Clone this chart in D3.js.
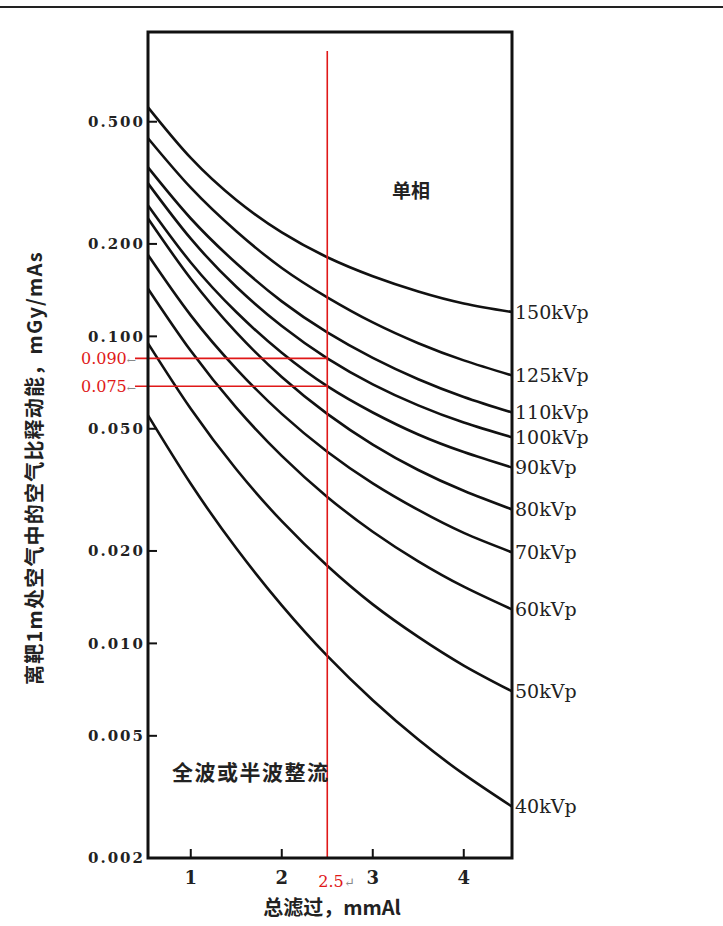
<!DOCTYPE html>
<html>
<head>
<meta charset="utf-8">
<script src="https://cdn.jsdelivr.net/npm/d3@7"></script>
<style>
  body { margin: 0; background: #fff; }
  svg { display: block; }
</style>
</head>
<body>
<svg id="chart" width="723" height="926"></svg>
<script>
// ---- data ----
const filtration = [0.53, 1.0, 1.5, 2.0, 2.5, 3.0, 3.5, 4.0, 4.53];
const kvpLabels = ["150kVp", "125kVp", "110kVp", "100kVp", "90kVp", "80kVp", "70kVp", "60kVp", "50kVp", "40kVp"];
const kerma150 = [0.557, 0.381, 0.278, 0.218, 0.181, 0.157, 0.140, 0.128, 0.120];
const kerma125 = [0.442, 0.305, 0.220, 0.167, 0.134, 0.111, 0.095, 0.0835, 0.0746];
const kerma110 = [0.355, 0.242, 0.173, 0.130, 0.103, 0.0851, 0.0725, 0.0635, 0.0565];
const kerma100 = [0.315, 0.208, 0.145, 0.108, 0.0848, 0.0698, 0.0596, 0.0524, 0.0469];
const kerma90  = [0.267, 0.174, 0.120, 0.0884, 0.0688, 0.0565, 0.0479, 0.0420, 0.0374];
const kerma80  = [0.242, 0.154, 0.103, 0.0737, 0.0559, 0.0444, 0.0367, 0.0314, 0.0273];
const kerma70  = [0.184, 0.117, 0.0784, 0.0559, 0.0421, 0.0332, 0.0272, 0.0229, 0.0198];
const kerma60  = [0.143, 0.0897, 0.0586, 0.0408, 0.0300, 0.0231, 0.0185, 0.0153, 0.0129];
const kerma50  = [0.0949, 0.0581, 0.0369, 0.0250, 0.0179, 0.0134, 0.0105, 0.00847, 0.00698];
const kerma40  = [0.0553, 0.0331, 0.0204, 0.0133, 0.0091, 0.00653, 0.00486, 0.00375, 0.00294];
const seriesValues = [kerma150, kerma125, kerma110, kerma100, kerma90, kerma80, kerma70, kerma60, kerma50, kerma40];

const xTicks = [1, 2, 3, 4];
const yTicks = [0.5, 0.2, 0.1, 0.05, 0.02, 0.01, 0.005];
const yTickLabels = ["0.500", "0.200", "0.100", "0.050", "0.020", "0.010", "0.005", "0.002"];
const yLabelValues = [0.5, 0.2, 0.1, 0.05, 0.02, 0.01, 0.005, 0.002];

const markX = 2.5;
const markXLabel = "2.5";
const markTop = 0.85;
const markYValues = [0.0848, 0.0688];
const markYLabels = ["0.090", "0.075"];

const xTitle = "总滤过，mmAl";
const yTitle = "离靶1m处空气中的空气比释动能，mGy/mAs";
const noteTop = "单相";
const noteBottom = "全波或半波整流";

// ---- layout ----
const svg = d3.select("#chart");
const pLeft = 148, pRight = 512, pTop = 32, pBottom = 858;
const x = d3.scaleLinear().domain([0.53, 4.53]).range([pLeft, pRight]);
const y = d3.scaleLog().domain([0.002, 0.98]).range([pBottom, pTop]);

const ink = "#111";
const red = "#e01818";

// top rule
svg.append("line").attr("x1", 0).attr("x2", 723).attr("y1", 7).attr("y2", 7)
  .attr("stroke", "#222").attr("stroke-width", 2);

// curves
const line = d3.line()
  .x((d, i) => x(filtration[i]))
  .y(d => y(d))
  .curve(d3.curveNatural);

const g = svg.append("g");
seriesValues.forEach((vals, si) => {
  g.append("path").attr("d", line(vals))
    .attr("fill", "none").attr("stroke", ink).attr("stroke-width", 2.6);
  g.append("text")
    .attr("x", pRight + 3)
    .attr("y", y(vals[vals.length - 1]))
    .attr("dy", "0.35em")
    .attr("font-family", "DejaVu Serif")
    .attr("font-size", 19)
    .attr("fill", "#222")
    .text(kvpLabels[si]);
});

// red markers
svg.append("line")
  .attr("x1", x(markX)).attr("x2", x(markX))
  .attr("y1", y(markTop)).attr("y2", pBottom)
  .attr("stroke", red).attr("stroke-width", 1.6);
markYValues.forEach((v, i) => {
  svg.append("line")
    .attr("x1", 135).attr("x2", x(markX))
    .attr("y1", y(v)).attr("y2", y(v))
    .attr("stroke", red).attr("stroke-width", 1.6);
  const t = svg.append("text")
    .attr("x", 136).attr("y", y(v)).attr("dy", "0.35em")
    .attr("text-anchor", "end")
    .attr("font-family", "DejaVu Serif").attr("font-size", 16);
  t.append("tspan").attr("fill", red).text(markYLabels[i]);
  t.append("tspan").attr("fill", "#888").attr("font-size", 11).text("←");
});
const xl = svg.append("text")
  .attr("x", x(markX) - 9).attr("y", 887)
  .attr("font-family", "DejaVu Serif").attr("font-size", 16);
xl.append("tspan").attr("fill", red).text(markXLabel);
xl.append("tspan").attr("fill", "#888").attr("font-size", 13).text("↵");

// frame
svg.append("rect")
  .attr("x", pLeft).attr("y", pTop)
  .attr("width", pRight - pLeft).attr("height", pBottom - pTop)
  .attr("fill", "none").attr("stroke", ink).attr("stroke-width", 3);

// y ticks
yTicks.forEach(v => {
  svg.append("line").attr("x1", pLeft).attr("x2", pLeft + 9)
    .attr("y1", y(v)).attr("y2", y(v))
    .attr("stroke", ink).attr("stroke-width", 2);
});
yLabelValues.forEach((v, i) => {
  svg.append("text")
    .attr("x", pLeft - 3).attr("y", y(v)).attr("dy", "0.35em")
    .attr("text-anchor", "end")
    .attr("font-family", "DejaVu Serif").attr("font-weight", "bold")
    .attr("font-size", 15).attr("letter-spacing", 2)
    .attr("fill", "#222")
    .text(yTickLabels[i]);
});

// x ticks
xTicks.forEach(v => {
  svg.append("line").attr("x1", x(v)).attr("x2", x(v))
    .attr("y1", pBottom).attr("y2", pBottom - 9)
    .attr("stroke", ink).attr("stroke-width", 2);
  svg.append("text")
    .attr("x", x(v)).attr("y", 884)
    .attr("text-anchor", "middle")
    .attr("font-family", "DejaVu Serif").attr("font-weight", "bold")
    .attr("font-size", 18).attr("fill", "#222")
    .text(v);
});

// titles
svg.append("text")
  .attr("x", 332).attr("y", 915)
  .attr("text-anchor", "middle")
  .attr("font-family", "Noto Sans CJK SC").attr("font-weight", "bold")
  .attr("font-size", 20).attr("fill", "#222")
  .text(xTitle);

svg.append("text")
  .attr("transform", "translate(42,468) rotate(-90)")
  .attr("text-anchor", "middle")
  .attr("font-family", "Noto Sans CJK SC").attr("font-weight", "bold")
  .attr("font-size", 20).attr("letter-spacing", 1.2).attr("fill", "#222")
  .text(yTitle);

svg.append("text")
  .attr("x", 411).attr("y", 198)
  .attr("text-anchor", "middle")
  .attr("font-family", "Noto Sans CJK SC").attr("font-weight", "bold")
  .attr("font-size", 19).attr("fill", "#222")
  .text(noteTop);

svg.append("text")
  .attr("x", 172).attr("y", 780)
  .attr("font-family", "Noto Sans CJK SC").attr("font-weight", "bold")
  .attr("font-size", 21).attr("letter-spacing", 1.5).attr("fill", "#222")
  .text(noteBottom);
</script>
</body>
</html>
